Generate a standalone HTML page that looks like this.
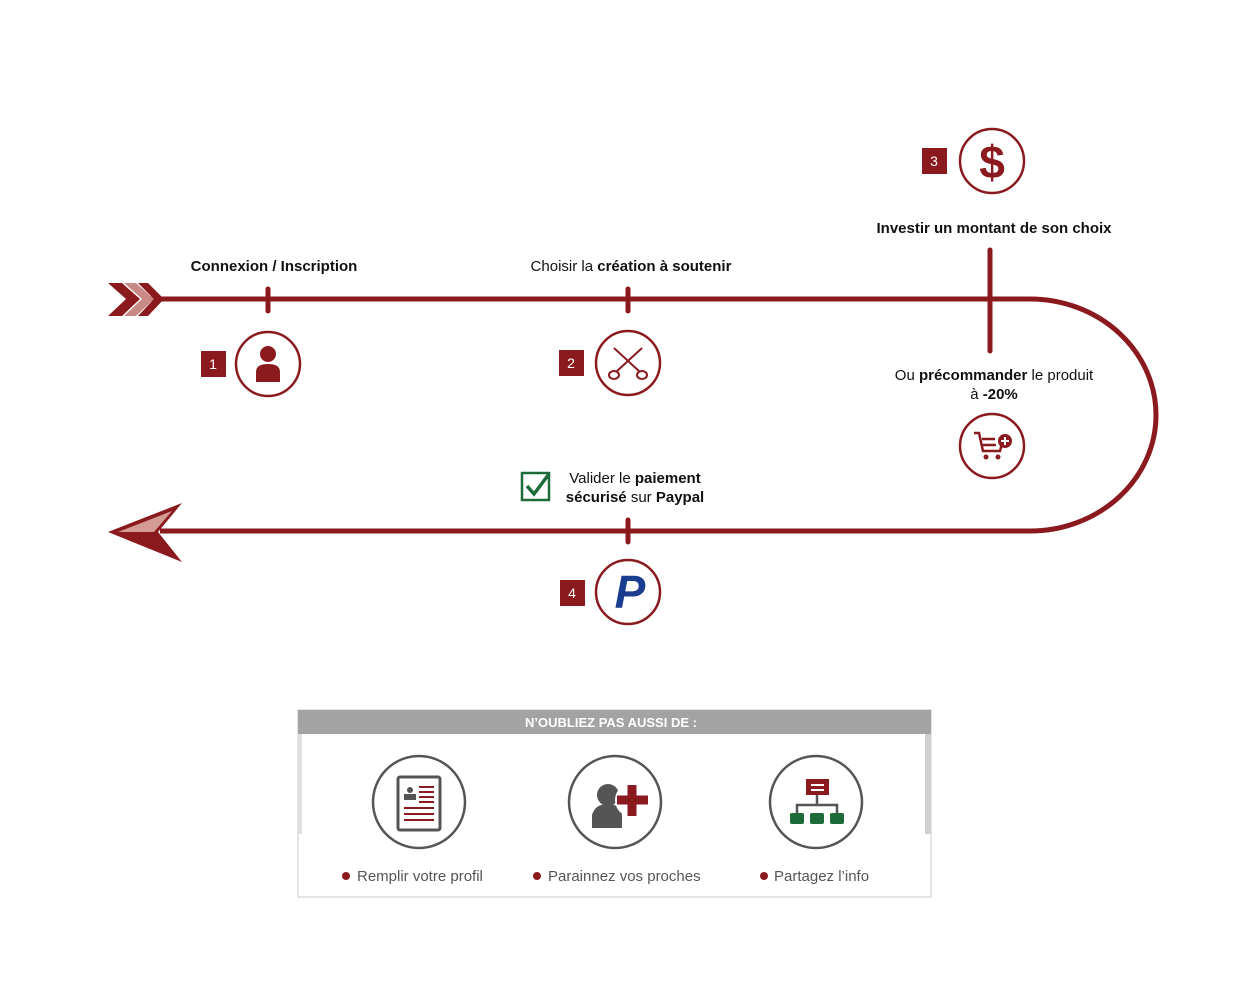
<!DOCTYPE html>
<html><head><meta charset="utf-8"><style>
body{margin:0;background:#fff;width:1250px;height:1000px;overflow:hidden}
svg text{font-family:"Liberation Sans",sans-serif}
</style></head><body>
<svg width="1250" height="1000" viewBox="0 0 1250 1000">
<g stroke="#8b1a1f" fill="none" stroke-width="5">
<path d="M150 299 H1030 A126 116 0 0 1 1030 531 H160"/>
</g>
<g fill="#8b1a1f">
<polygon points="108,283 122,283 140,299 122,316 108,316 126,299"/>
<polygon points="124,283 136,283 154,299 136,316 124,316 142,299" fill="#c98a86"/>
<polygon points="138,283 148,283 164,299 148,316 138,316 154,299"/>
</g>
<polygon points="108,532 182,503 158,532 182,562" fill="#8b1a1f"/>
<polygon points="118,532 172,511 154,532" fill="#d49a94"/>
<g stroke="#8b1a1f" stroke-width="5" stroke-linecap="round">
<line x1="268" y1="289" x2="268" y2="311"/>
<line x1="628" y1="289" x2="628" y2="311"/>
<line x1="990" y1="250" x2="990" y2="351"/>
<line x1="628" y1="520" x2="628" y2="542"/>
</g>
<g stroke="#8b1a1f" stroke-width="2.5" fill="#fff">
<circle cx="268" cy="364" r="32"/><circle cx="628" cy="363" r="32"/>
<circle cx="992" cy="161" r="32"/><circle cx="992" cy="446" r="32"/>
<circle cx="628" cy="592" r="32"/>
</g>
<g fill="#8b1a1f">
<circle cx="268" cy="354" r="8"/><path d="M256 382 V372 Q256 364 268 364 Q280 364 280 372 V382Z"/>
<rect x="201" y="351" width="25" height="26"/><rect x="559" y="350" width="25" height="26"/>
<rect x="922" y="148" width="25" height="26"/><rect x="560" y="580" width="25" height="26"/>
</g>
<g fill="#fff" font-size="14" text-anchor="middle">
<text x="213" y="369">1</text><text x="571" y="368">2</text><text x="934" y="166">3</text><text x="572" y="598">4</text>
</g>
<g stroke="#8b1a1f" stroke-width="2" fill="none">
<line x1="614" y1="348" x2="640" y2="372"/><line x1="642" y1="348" x2="616" y2="372"/>
<ellipse cx="614" cy="375" rx="5" ry="4"/><ellipse cx="642" cy="375" rx="5" ry="4"/>
</g>
<text x="992" y="178" font-size="46" font-weight="bold" fill="#8b1a1f" text-anchor="middle">$</text>
<g stroke="#8b1a1f" stroke-width="2.5" fill="none">
<path d="M974 433 h5 l4 18 h17 l3 -12"/><line x1="982" y1="439" x2="995" y2="439"/><line x1="983" y1="445" x2="996" y2="445"/>
</g>
<circle cx="986" cy="457" r="2.5" fill="#8b1a1f"/><circle cx="998" cy="457" r="2.5" fill="#8b1a1f"/>
<circle cx="1005" cy="441" r="7" fill="#8b1a1f"/>
<path d="M1001 441h8M1005 437v8" stroke="#fff" stroke-width="2"/>
<text x="630" y="608" font-size="46" font-weight="bold" font-style="italic" fill="#1a3d8f" text-anchor="middle">P</text>
<rect x="522" y="473" width="27" height="27" fill="none" stroke="#1e6b3a" stroke-width="2.5"/>
<path d="M527 486 l7 8 l15 -20" fill="none" stroke="#1e6b3a" stroke-width="3.5"/>
<g font-size="15" fill="#111" text-anchor="middle">
<text x="274" y="271" font-weight="bold">Connexion / Inscription</text>
<text x="631" y="271">Choisir la <tspan font-weight="bold">création à soutenir</tspan></text>
<text x="994" y="233" font-weight="bold">Investir un montant de son choix</text>
<text x="994" y="380">Ou <tspan font-weight="bold">précommander</tspan> le produit</text>
<text x="994" y="399">à <tspan font-weight="bold">-20%</tspan></text>
<text x="635" y="483">Valider le <tspan font-weight="bold">paiement</tspan></text>
<text x="635" y="502"><tspan font-weight="bold">sécurisé</tspan> sur <tspan font-weight="bold">Paypal</tspan></text>
</g>
<rect x="298" y="710" width="633" height="187" fill="#fff" stroke="#e4e4e4" stroke-width="2"/>
<rect x="298" y="710" width="633" height="24" fill="#a3a3a3"/>
<rect x="925" y="734" width="6" height="100" fill="#d0d0d0"/>
<rect x="298" y="734" width="4" height="100" fill="#e0e0e0"/>
<text x="611" y="727" font-size="13" font-weight="bold" fill="#fff" text-anchor="middle">N’OUBLIEZ  PAS AUSSI DE :</text>
<g stroke="#555" stroke-width="2.5" fill="none">
<circle cx="419" cy="802" r="46"/><circle cx="615" cy="802" r="46"/><circle cx="816" cy="802" r="46"/>
<rect x="398" y="777" width="42" height="53" rx="2" stroke-width="3"/>
</g>
<g fill="#555"><circle cx="410" cy="790" r="3"/><rect x="404" y="794" width="12" height="6"/></g>
<g stroke="#8b1a1f" stroke-width="2"><path d="M419 787h15M419 792h15M419 797h15M419 802h15M404 808h30M404 814h30M404 820h30"/></g>
<g fill="#555"><circle cx="608" cy="795" r="11"/><path d="M592 828 V815 Q595 804 608 804 Q620 804 622 815 V828Z"/></g>
<circle cx="632" cy="800" r="17" fill="#fff"/>
<path d="M617 800h31M632 785v31" stroke="#8b1a1f" stroke-width="9"/>
<rect x="806" y="779" width="23" height="16" fill="#8b1a1f"/>
<path d="M811 785h13M811 790h13" stroke="#fff" stroke-width="2"/>
<path d="M817 795v9M797 813v-8h40v8" stroke="#555" stroke-width="2.5" fill="none"/>
<g fill="#1e6b3a"><rect x="790" y="813" width="14" height="11" rx="2"/><rect x="810" y="813" width="14" height="11" rx="2"/><rect x="830" y="813" width="14" height="11" rx="2"/></g>
<g fill="#8b1a1f"><circle cx="346" cy="876" r="4"/><circle cx="537" cy="876" r="4"/><circle cx="764" cy="876" r="4"/></g>
<g font-size="15" fill="#555">
<text x="357" y="881">Remplir votre profil</text>
<text x="548" y="881">Parainnez vos proches</text>
<text x="774" y="881">Partagez l’info</text>
</g>
</svg>
</body></html>
